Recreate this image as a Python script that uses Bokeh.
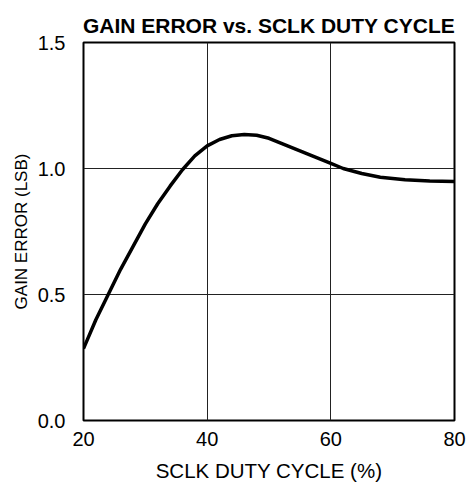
from bokeh.plotting import figure
from bokeh.embed import file_html
from bokeh.resources import INLINE
from bokeh.models import FixedTicker, Range1d

duty = [20, 22, 24, 26, 28, 30, 32, 34, 36, 38, 40, 42, 44, 46, 48, 50, 52, 55, 58, 60, 62, 65, 68, 72, 76, 80]
gain_error = [0.285, 0.40, 0.50, 0.60, 0.69, 0.78, 0.86, 0.93, 0.995, 1.05, 1.09, 1.115, 1.13, 1.135, 1.132,
              1.12, 1.10, 1.07, 1.04, 1.02, 1.00, 0.98, 0.965, 0.955, 0.95, 0.948]
x_ticks = [20, 40, 60, 80]
y_ticks = [0.0, 0.5, 1.0, 1.5]

FONT = "Liberation Sans"

p = figure(width=470, height=485, output_backend="svg", toolbar_location=None,
           x_range=Range1d(20, 80), y_range=Range1d(0, 1.5),
           title="GAIN ERROR vs. SCLK DUTY CYCLE",
           min_border_left=83, min_border_right=16, min_border_top=42, min_border_bottom=65)

p.title.align = "center"
p.title.vertical_align = "top"
p.title.text_line_height = 0.7
p.title.text_font = FONT
p.title.text_font_size = "21px"
p.title.text_font_style = "bold"
p.title.text_color = "black"
p.title.standoff = 8

p.outline_line_color = "black"
p.outline_line_width = 2
p.outline_line_alpha = 1.0

for ax in (p.xaxis, p.yaxis):
    ax.axis_line_color = None
    ax.major_tick_line_color = None
    ax.minor_tick_line_color = None
    ax.major_label_text_font = FONT
    ax.major_label_text_font_size = "20px"
    ax.major_label_text_color = "black"
    ax.axis_label_text_font = FONT
    ax.axis_label_text_font_style = "normal"
    ax.axis_label_text_color = "black"

p.xaxis.axis_label_text_font_size = "20.5px"
p.yaxis.axis_label_text_font_size = "17px"
p.xaxis.ticker = FixedTicker(ticks=x_ticks)
p.yaxis.ticker = FixedTicker(ticks=y_ticks)
p.yaxis.major_label_overrides = {v: f"{v:.1f}" for v in y_ticks}
p.xaxis.axis_label = "SCLK DUTY CYCLE (%)"
p.yaxis.axis_label = "GAIN ERROR (LSB)"
p.xaxis.major_label_standoff = 5
p.yaxis.major_label_standoff = 12
p.xaxis.axis_label_standoff = 10
p.yaxis.axis_label_standoff = 4

p.xgrid.grid_line_color = "#222222"
p.ygrid.grid_line_color = "#222222"
p.xgrid.grid_line_width = 1
p.ygrid.grid_line_width = 1

p.line(duty, gain_error, line_color="black", line_width=3.5)

open("out.html", "w").write(file_html(p, INLINE))
